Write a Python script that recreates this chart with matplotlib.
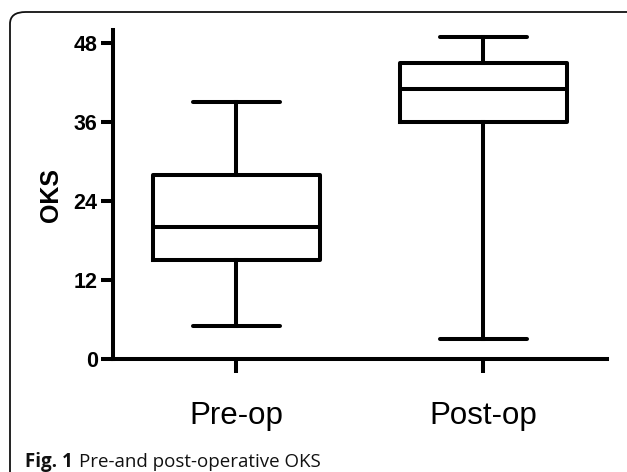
import matplotlib.pyplot as plt
from matplotlib.patches import FancyBboxPatch

# box plot summary values
groups = ['Pre-op', 'Post-op']
whis_lo = [5, 3]
q1 = [15, 36]
median = [20, 41]
q3 = [28, 45]
whis_hi = [39, 49]
yticks = [0, 12, 24, 36, 48]

plt.rcParams['font.family'] = ['Liberation Sans', 'DejaVu Sans']

fig = plt.figure(figsize=(6.27, 4.72), dpi=100)
ax = fig.add_axes([0.1802, 0.2394, 0.968 - 0.1802, 0.9364 - 0.2394])

stats = []
for i, g in enumerate(groups):
    stats.append(dict(label=g, whislo=whis_lo[i], q1=q1[i], med=median[i],
                      q3=q3[i], whishi=whis_hi[i], fliers=[]))

lw = 2.9
ax.bxp(stats, positions=[1, 2], widths=0.675, showfliers=False,
       boxprops=dict(color='black', linewidth=lw),
       medianprops=dict(color='black', linewidth=lw),
       whiskerprops=dict(color='black', linewidth=lw),
       capprops=dict(color='black', linewidth=lw, solid_capstyle='round'),
       capwidths=0.35)

ax.set_xlim(0.5, 2.5)
ax.set_ylim(0, 50)
ax.set_yticks(yticks)
ax.set_yticklabels([str(t) for t in yticks], fontsize=15.5, fontweight='bold')
ax.set_xticks([1, 2])
ax.set_xticklabels(groups, fontsize=22.5)
ax.tick_params(axis='y', length=9, width=lw, pad=2)
ax.tick_params(axis='x', length=10, width=lw, pad=20)
ax.set_ylabel('OKS', fontsize=18, fontweight='bold', labelpad=8)

for s in ['top', 'right']:
    ax.spines[s].set_visible(False)
for s in ['left', 'bottom']:
    ax.spines[s].set_linewidth(lw)

# rounded frame round the figure, open at the bottom
frame = FancyBboxPatch((10 / 627, -0.1), 1.2, 1.1 - 12 / 472,
                       boxstyle='round,pad=0,rounding_size=0.025',
                       transform=fig.transFigure, fill=False,
                       edgecolor='#111111', linewidth=1.3, clip_on=False)
fig.patches.append(frame)

fig.text(25 / 627, 1 - 467 / 472, 'Fig. 1', fontsize=13.5, fontweight='bold',
         family=['Open Sans', 'DejaVu Sans'], color='#111111')
fig.text(79 / 627, 1 - 467 / 472, 'Pre-and post-operative OKS', fontsize=13.5,
         family=['Open Sans', 'DejaVu Sans'], color='#111111')

fig.savefig('out.png', dpi=100)
